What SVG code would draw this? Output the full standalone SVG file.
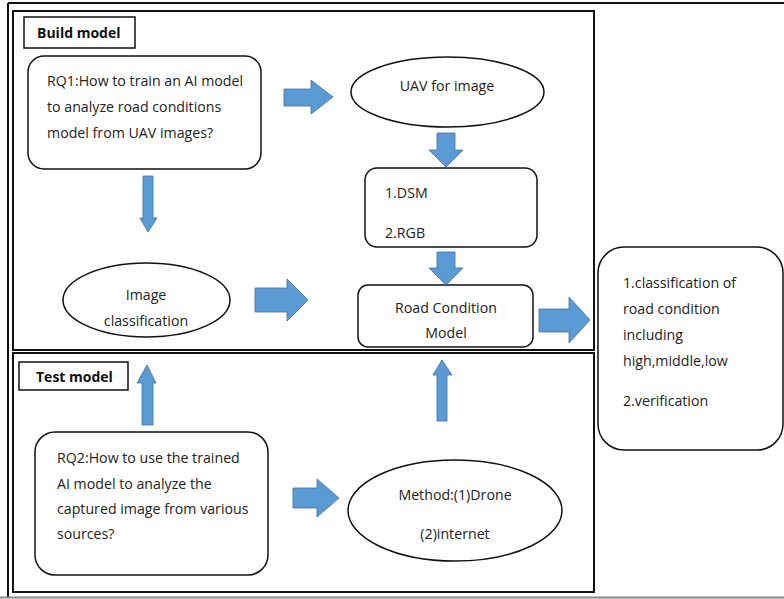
<svg xmlns="http://www.w3.org/2000/svg" width="784" height="599" viewBox="0 0 784 599">
<style>
.frame{fill:none;stroke:#111;stroke-width:2}
.node{fill:#fff;stroke:#111;stroke-width:1.5}
.lbl{fill:#fff;stroke:#111;stroke-width:1.5}
.t{font-family:"Open Sans","Liberation Sans",sans-serif;font-size:14.2px;fill:#222}
.tb{font-family:"Open Sans","Liberation Sans",sans-serif;font-size:14px;font-weight:bold;fill:#111}
.arr{fill:#5B9BD5;stroke:#41719C;stroke-width:0.8}
</style>
<rect width="784" height="599" fill="#fff"/>
<g id="frames">
<line x1="8" y1="3" x2="784" y2="3" stroke="#111" stroke-width="2"/>
<line x1="8" y1="3" x2="8" y2="597" stroke="#111" stroke-width="2"/>
<line x1="0" y1="597.5" x2="784" y2="597.5" stroke="#888" stroke-width="2"/>
<rect class="frame" x="13" y="11" width="581" height="339"/>
<rect class="frame" x="13" y="353" width="581" height="239"/>
</g>
<g id="build-label">
<rect class="lbl" x="24" y="17" width="111" height="31"/>
<text class="tb" x="37" y="38">Build model</text>
</g>
<g id="test-label">
<rect class="lbl" x="19" y="362" width="109" height="28"/>
<text class="tb" x="36" y="382">Test model</text>
</g>
<g id="rq1">
<rect class="node" x="28" y="56" width="233" height="113" rx="16"/>
<text class="t" x="47" y="86">RQ1:How to train an AI model</text>
<text class="t" x="47" y="112">to analyze road conditions</text>
<text class="t" x="47" y="138">model from UAV images?</text>
</g>
<g id="uav">
<ellipse class="node" cx="447.5" cy="92" rx="96.5" ry="35"/>
<text class="t" x="447" y="91" text-anchor="middle">UAV for image</text>
</g>
<g id="dsm">
<rect class="node" x="365" y="168" width="172" height="79" rx="12"/>
<text class="t" x="385" y="198">1.DSM</text>
<text class="t" x="385" y="238">2.RGB</text>
</g>
<g id="image-classification">
<ellipse class="node" cx="146.5" cy="300" rx="83.5" ry="37"/>
<text class="t" x="146" y="300" text-anchor="middle">Image</text>
<text class="t" x="146" y="326" text-anchor="middle">classification</text>
</g>
<g id="road-model">
<rect class="node" x="358" y="285" width="175" height="62" rx="10"/>
<text class="t" x="446" y="313" text-anchor="middle">Road Condition</text>
<text class="t" x="446" y="338" text-anchor="middle">Model</text>
</g>
<g id="output">
<rect class="node" x="598" y="247" width="185" height="203" rx="26"/>
<text class="t" x="623" y="288">1.classification of</text>
<text class="t" x="623" y="314">road condition</text>
<text class="t" x="623" y="340">including</text>
<text class="t" x="623" y="366">high,middle,low</text>
<text class="t" x="623" y="406">2.verification</text>
</g>
<g id="rq2">
<rect class="node" x="35" y="432" width="233" height="143" rx="20"/>
<text class="t" x="57" y="463">RQ2:How to use the trained</text>
<text class="t" x="57" y="489">AI model to analyze the</text>
<text class="t" x="57" y="514">captured image from various</text>
<text class="t" x="57" y="539">sources?</text>
</g>
<g id="method">
<ellipse class="node" cx="455" cy="510.5" rx="107" ry="50.5"/>
<text class="t" x="455" y="500" text-anchor="middle">Method:(1)Drone</text>
<text class="t" x="455" y="539" text-anchor="middle">(2)internet</text>
</g>
<g id="connectors">
<path class="arr" d="M284,89 H311 V80 L333,97 L311,114 V106 H284 Z"/>
<path class="arr" d="M437,133 H455 V150 H463 L446,167 L429,150 H437 Z"/>
<path class="arr" d="M437,252 H455 V268 H463 L446,285 L429,268 H437 Z"/>
<path class="arr" d="M143,176 H153 V218 H157 L148,232 L140,218 H143 Z"/>
<path class="arr" d="M255,288 H287 V279 L308,300 L287,321 V312 H255 Z"/>
<path class="arr" d="M539,309 H569 V297 L590,320 L569,343 V332 H539 Z"/>
<path class="arr" d="M142,425 V383 H137 L147,365 L156,383 H153 V425 Z"/>
<path class="arr" d="M293,488 H317 V479 L339,498 L317,517 V508 H293 Z"/>
<path class="arr" d="M437,421 V375 H433 L442,360 L452,375 H447 V421 Z"/>
</g>
</svg>
